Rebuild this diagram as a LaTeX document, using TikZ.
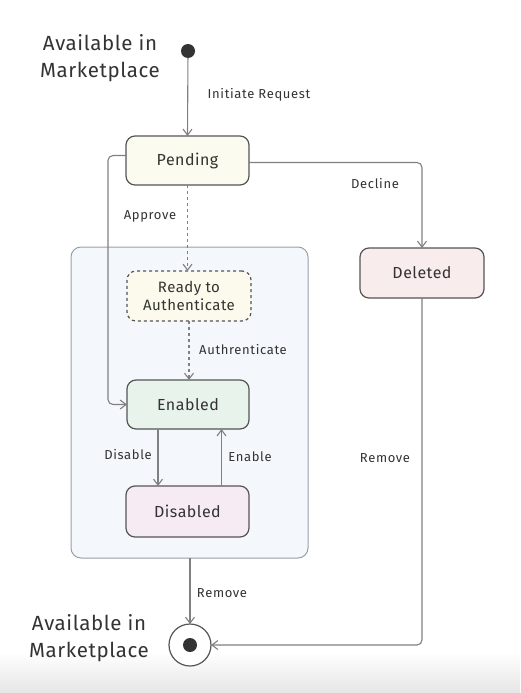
\documentclass[tikz,border=0pt]{standalone}
\usepackage{fontspec}
\setmainfont{Fira Sans}
\newfontfamily\lblfont[LetterSpace=5]{Fira Sans}
\newfontfamily\nodefont[LetterSpace=3]{Fira Sans}
\usetikzlibrary{arrows.meta}
\definecolor{txt}{HTML}{333333}
\definecolor{edgec}{HTML}{808080}
\definecolor{boxc}{HTML}{555555}
\definecolor{pendfill}{HTML}{FBFBEF}
\definecolor{readyfill}{HTML}{FCFAEC}
\definecolor{enfill}{HTML}{E8F3EB}
\definecolor{disfill}{HTML}{F6EBF3}
\definecolor{delfill}{HTML}{F8ECEC}
\definecolor{grpfill}{HTML}{F4F7FB}
\definecolor{grpline}{HTML}{9AA0A8}
\tikzset{
  statebox/.style={draw=boxc, line width=1.2pt, rounded corners=9pt, outer sep=0pt, inner sep=2pt,
    text=txt, font=\nodefont\fontsize{16}{18}\selectfont, align=center},
  edge/.style={draw=edgec, line width=1.1pt, -{Straight Barb[length=6pt,width=9pt]}, rounded corners=5pt},
  elabel/.style={text=txt, font=\lblfont\fontsize{13}{15}\selectfont, inner sep=1pt},
  biglabel/.style={text=txt, font=\nodefont\fontsize{20.5}{27}\selectfont, align=center}
}
\begin{document}
\begin{tikzpicture}[x=1pt, y=-1pt]
\useasboundingbox (0,0) rectangle (520,693);
\fill[white] (0,0) rectangle (520,693);
\shade[top color=white, bottom color=black!10] (0,652) rectangle (520,693);

% group
\node[draw=grpline, fill=grpfill, line width=1pt, rounded corners=10pt, minimum width=237pt, minimum height=311pt, outer sep=0pt] (grp) at (189.5,402.5) {};

% states
\node[circle, fill=txt, minimum size=14pt, inner sep=0pt, outer sep=0pt] (init) at (188,51) {};
\node[biglabel] (toplabel) at (100,58) {Available in\\Marketplace};

\node[statebox, fill=pendfill, minimum width=123pt, minimum height=49pt] (pending) at (187.5,160.5) {Pending};
\node[statebox, fill=readyfill, dashed, minimum width=124pt, minimum height=50pt, font=\nodefont\fontsize{15}{18}\selectfont] (ready) at (189,296) {Ready to\\Authenticate};
\node[statebox, fill=enfill, minimum width=122pt, minimum height=49pt] (enabled) at (188,404.5) {Enabled};
\node[statebox, fill=disfill, minimum width=123pt, minimum height=51pt] (disabled) at (187.5,511.5) {Disabled};
\node[statebox, fill=delfill, minimum width=124pt, minimum height=50pt] (deleted) at (422,273) {Deleted};

\node[circle, draw=boxc, line width=1.2pt, fill=white, minimum size=42pt, inner sep=0pt, outer sep=0pt] (final) at (190,645) {};
\node[circle, fill=txt, minimum size=14pt, inner sep=0pt] (finaldot) at (final.center) {};
\node[biglabel] (botlabel) at (89,638) {Available in\\Marketplace};

% connectors
\draw[edge] (init) -- (pending.north);
\draw[edge] ([yshift=5pt]pending.west) -- ++(-18,0) |- (enabled.west);
\draw[edge, dashed] (pending.south) -- (pending.south |- ready.north);
\draw[edge] ([yshift=-2pt]pending.east) -| (deleted.north);
\draw[edge, dashed] (ready.south) -- (ready.south |- enabled.north);
\draw[edge] ([xshift=-30pt]enabled.south) -- ([xshift=-30pt]enabled.south |- disabled.north);
\draw[edge] ([xshift=34pt]disabled.north) -- ([xshift=34pt]disabled.north |- enabled.south);
\draw[edge] (grp.south -| final.north) -- (final.north);
\draw[edge] (deleted.south) |- (final.east);

% labels
\node[elabel] (l1) at (259,95) {Initiate Request};
\node[elabel] (l2) at (150,216) {Approve};
\node[elabel] (l3) at (375,184) {Decline};
\node[elabel] (l4) at (243,350) {Authrenticate};
\node[elabel] (l5) at (128,455) {Disable};
\node[elabel] (l6) at (250,457) {Enable};
\node[elabel] (l7) at (222,593) {Remove};
\node[elabel] (l8) at (385,458) {Remove};
\end{tikzpicture}
\end{document}
